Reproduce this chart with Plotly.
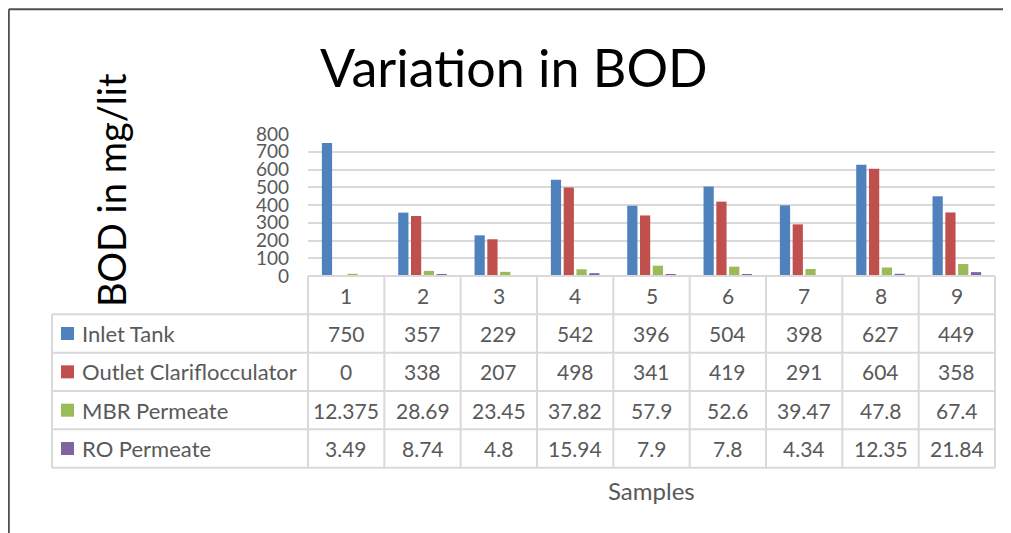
import plotly.graph_objects as go

samples = ["1", "2", "3", "4", "5", "6", "7", "8", "9"]
series_names = ["Inlet Tank", "Outlet Clariflocculator", "MBR Permeate", "RO Permeate"]
inlet_tank = [750, 357, 229, 542, 396, 504, 398, 627, 449]
outlet_clariflocculator = [0, 338, 207, 498, 341, 419, 291, 604, 358]
mbr_permeate = [12.375, 28.69, 23.45, 37.82, 57.9, 52.6, 39.47, 47.8, 67.4]
ro_permeate = [3.49, 8.74, 4.8, 15.94, 7.9, 7.8, 4.34, 12.35, 21.84]
series_values = [inlet_tank, outlet_clariflocculator, mbr_permeate, ro_permeate]
colors = ["#4F81BD", "#C0504D", "#9BBB59", "#8064A2"]
y_ticks = [0, 100, 200, 300, 400, 500, 600, 700, 800]

# the page body has an 8px margin, so the figure is laid out in page pixels minus 8
OFF = 8
W, H = 1011 - OFF, 533 - OFF
L, R, T, B = 308 - OFF, 16, 134 - OFF, 257
PW = W - L - R
PH = H - T - B

FONT = "Lato"
GRAY = "#595959"
LINE = "#D9D9D9"


def px(xp):
    return (xp - OFF - L) / PW


def py(yp):
    return (H - B - (yp - OFF)) / PH


fig = go.Figure()
for name, vals, c in zip(series_names, series_values, colors):
    fig.add_trace(go.Bar(name=name, x=samples, y=vals, marker=dict(color=c, line=dict(width=0))))

shapes = []
annotations = []

# frame (top + left)
shapes.append(dict(type="line", xref="paper", yref="paper", x0=px(8.8), x1=px(1011 + 20), y0=py(9.2), y1=py(9.2),
                   line=dict(color="#505050", width=2)))
shapes.append(dict(type="line", xref="paper", yref="paper", x0=px(8.8), x1=px(8.8), y0=py(9.2), y1=py(533 + 20),
                   line=dict(color="#505050", width=2)))

# data table
row_h = 38.34
n = len(samples)
rows_y = [276 + k * row_h for k in range(len(series_names) + 2)]
left_x = 52
for k, yv in enumerate(rows_y):
    x0 = 308 if k == 0 else left_x
    shapes.append(dict(type="line", xref="paper", yref="paper", x0=px(x0), x1=1, y0=py(yv), y1=py(yv),
                       line=dict(color=LINE, width=2)))
for i in range(n + 1):
    shapes.append(dict(type="line", xref="paper", yref="paper", x0=i / n, x1=i / n,
                       y0=py(rows_y[0]), y1=py(rows_y[-1]), line=dict(color=LINE, width=2)))
shapes.append(dict(type="line", xref="paper", yref="paper", x0=px(left_x), x1=px(left_x),
                   y0=py(rows_y[1]), y1=py(rows_y[-1]), line=dict(color=LINE, width=2)))

# header row: sample numbers
for i, s in enumerate(samples):
    annotations.append(dict(xref="x", yref="paper", x=i, y=py((rows_y[0] + rows_y[1]) / 2), text=s,
                            xanchor="center", yanchor="middle",
                            showarrow=False, font=dict(family=FONT, size=21, color=GRAY)))

# series rows
for r, (name, vals, c) in enumerate(zip(series_names, series_values, colors)):
    yc = (rows_y[r + 1] + rows_y[r + 2]) / 2
    shapes.append(dict(type="rect", xref="paper", yref="paper", x0=px(61), x1=px(74), y0=py(yc - 6.5), y1=py(yc + 6.5),
                       fillcolor=c, line=dict(width=0)))
    annotations.append(dict(xref="paper", yref="paper", x=px(80), y=py(yc), text=name,
                            xanchor="left", yanchor="middle",
                            showarrow=False, font=dict(family=FONT, size=22, color=GRAY)))
    for i, v in enumerate(vals):
        annotations.append(dict(xref="x", yref="paper", x=i, y=py(yc), text=f"{v:g}",
                                xanchor="center", yanchor="middle",
                                showarrow=False, font=dict(family=FONT, size=21, color=GRAY)))

# titles
annotations.append(dict(xref="paper", yref="paper", x=px(514), y=py(67), text="Variation in BOD",
                        xanchor="center", yanchor="middle",
                        showarrow=False, font=dict(family=FONT, size=52, color="#000000")))
annotations.append(dict(xref="paper", yref="paper", x=px(111), y=py(190), text="BOD in mg/lit", textangle=-90,
                        xanchor="center", yanchor="middle",
                        showarrow=False, font=dict(family=FONT, size=38, color="#000000")))
annotations.append(dict(xref="paper", yref="paper", x=px(651), y=py(490), text="Samples",
                        xanchor="center", yanchor="middle",
                        showarrow=False, font=dict(family=FONT, size=24, color=GRAY)))

fig.update_layout(
    width=W, height=H,
    margin=dict(l=L, r=R, t=T, b=B, autoexpand=False),
    paper_bgcolor="white", plot_bgcolor="white",
    barmode="group", bargap=0.33, bargroupgap=0.2,
    showlegend=False,
    shapes=shapes, annotations=annotations,
    xaxis=dict(type="category", range=[-0.5, n - 0.5], showticklabels=False, showgrid=False,
               showline=False, zeroline=False, fixedrange=True),
    yaxis=dict(range=[0, 800], tickvals=y_ticks, ticktext=[str(t) for t in y_ticks], showgrid=True,
               gridcolor=LINE, gridwidth=2, zeroline=False, showline=False,
               tickfont=dict(family=FONT, size=19, color=GRAY), ticklabelstandoff=18, fixedrange=True),
    font=dict(family=FONT),
)

fig.write_html("out.html")
